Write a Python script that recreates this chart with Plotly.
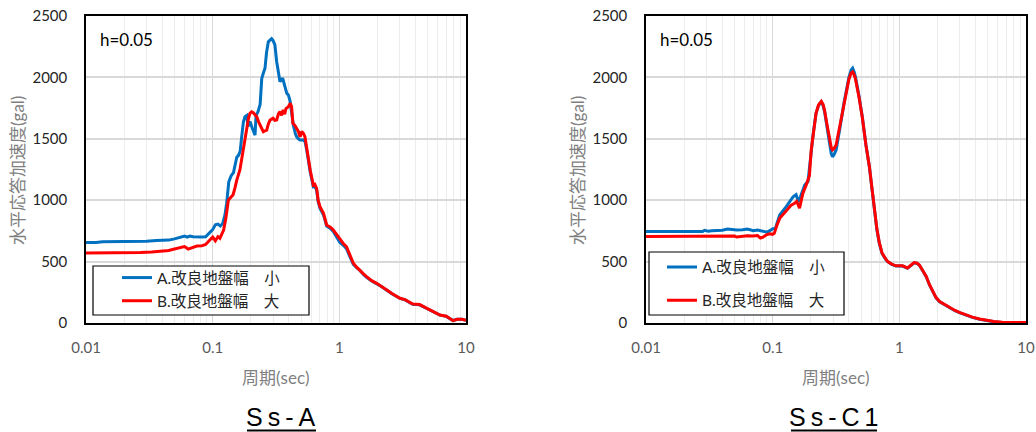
import plotly.graph_objects as go

# ---------------- data: Ss-A ----------------
sa_a_T = [0.01, 0.012, 0.0135, 0.02, 0.03, 0.036, 0.045, 0.05, 0.056, 0.06, 0.063, 0.066, 0.07, 0.075,
          0.082, 0.088, 0.094, 0.1, 0.105, 0.11, 0.115, 0.12, 0.125, 0.129, 0.134, 0.14, 0.146, 0.15,
          0.155, 0.16, 0.165, 0.17, 0.175, 0.18, 0.186, 0.19, 0.197, 0.205, 0.21, 0.216, 0.22, 0.228,
          0.237, 0.244, 0.252, 0.259, 0.266, 0.275, 0.285, 0.292, 0.3, 0.31, 0.32, 0.33, 0.34, 0.357,
          0.365, 0.373, 0.385, 0.396, 0.408, 0.42, 0.433, 0.45, 0.46, 0.475, 0.49, 0.52, 0.535, 0.55,
          0.565, 0.59, 0.623, 0.64, 0.662, 0.68, 0.703, 0.75, 0.794, 0.85, 0.896, 0.95, 1.01, 1.07,
          1.14, 1.2, 1.29, 1.37, 1.455, 1.55, 1.64, 1.8, 1.97, 2.15, 2.37, 2.6, 3.01, 3.3, 3.8, 4.3,
          4.9, 5.5, 6.23, 7.0, 7.9, 8.5, 9.3, 10.0]
sa_a_v = [655, 655, 662, 663, 665, 672, 675, 685, 700, 708, 700, 708, 702, 700,
          700, 702, 730, 760, 800, 805, 790, 810, 880, 975, 1150, 1200, 1225, 1280,
          1350, 1365, 1400, 1530, 1640, 1680, 1690, 1600, 1640, 1590, 1560, 1530, 1690, 1720,
          1780, 1990, 2040, 2075, 2200, 2290, 2305, 2315, 2300, 2264, 2130, 2050, 1965, 1993,
          1940, 1920, 1870, 1857, 1810, 1700, 1612, 1540, 1517, 1500, 1490, 1490, 1480, 1420,
          1340, 1225, 1110, 1115, 1080, 990, 935, 880, 790, 770, 745, 705, 655, 635,
          605, 550, 478, 450, 428, 396, 372, 342, 320, 298, 267, 238, 200, 188, 153, 148,
          118, 94, 64, 54, 20, 30, 30, 22]

sa_b_T = [0.01, 0.015, 0.02, 0.027, 0.033, 0.04, 0.045, 0.049, 0.055, 0.06, 0.064, 0.068, 0.075,
          0.082, 0.088, 0.095, 0.1, 0.105, 0.11, 0.114, 0.118, 0.122, 0.127, 0.129, 0.133, 0.137,
          0.145, 0.15, 0.155, 0.164, 0.174, 0.18, 0.186, 0.192, 0.197, 0.203, 0.209, 0.216, 0.223,
          0.23, 0.2365, 0.245, 0.251, 0.258, 0.267, 0.275, 0.284, 0.292, 0.3, 0.31, 0.32, 0.33,
          0.34, 0.35, 0.36, 0.37, 0.38, 0.395, 0.41, 0.42, 0.43, 0.445, 0.46, 0.475, 0.49, 0.505,
          0.52, 0.535, 0.55, 0.565, 0.59, 0.623, 0.64, 0.662, 0.68, 0.703, 0.75, 0.794, 0.85, 0.896,
          0.95, 1.01, 1.07, 1.14, 1.2, 1.29, 1.37, 1.455, 1.55, 1.64, 1.8, 1.97, 2.15, 2.37, 2.6,
          3.01, 3.3, 3.8, 4.3, 4.9, 5.5, 6.23, 7.0, 7.9, 8.5, 9.3, 10.0]
sa_b_v = [570, 570, 572, 575, 578, 583, 590, 600, 612, 622, 602, 610, 627,
          628, 640, 676, 700, 670, 703, 690, 720, 757, 850, 893, 1000, 1015,
          1045, 1100, 1164, 1246, 1409, 1500, 1598, 1670, 1707, 1720, 1713, 1700, 1680,
          1640, 1612, 1575, 1558, 1565, 1571, 1620, 1653, 1660, 1667, 1650, 1653, 1700,
          1721, 1690, 1735, 1700, 1748, 1760, 1790, 1760, 1626, 1610, 1585, 1560, 1517, 1560,
          1545, 1517, 1440, 1354, 1240, 1124, 1130, 1096, 1000, 947, 893, 798, 780, 757,
          720, 676, 650, 621, 560, 486, 455, 432, 400, 377, 345, 323, 300, 269, 240,
          201, 190, 155, 150, 120, 95, 65, 55, 19, 30, 30, 22]

# ---------------- data: Ss-C1 ----------------
sc_a_T = [0.01, 0.028, 0.029, 0.031, 0.033, 0.04, 0.044, 0.048, 0.052, 0.058, 0.063, 0.066, 0.07,
          0.076, 0.082, 0.09, 0.095, 0.1, 0.105, 0.11, 0.1136, 0.128, 0.138, 0.145, 0.153, 0.16,
          0.166, 0.173, 0.179, 0.19, 0.2015, 0.21, 0.22, 0.23, 0.242, 0.25, 0.257, 0.268, 0.28,
          0.29, 0.2967, 0.305, 0.317, 0.33, 0.348, 0.365, 0.38, 0.4, 0.416, 0.428, 0.44, 0.45,
          0.48, 0.51, 0.545, 0.58, 0.61, 0.64, 0.665, 0.695, 0.73, 0.785, 0.81, 0.87, 0.94, 1.06,
          1.16, 1.24, 1.31, 1.38, 1.44, 1.53, 1.63, 1.73, 1.83, 1.95, 2.08, 2.3, 2.5, 2.75, 2.98,
          3.4, 3.77, 4.3, 4.85, 5.6, 6.5, 8.0, 10.0]
sc_a_v = [745, 745, 755, 748, 752, 755, 765, 760, 758, 760, 765, 760, 752,
          758, 750, 740, 752, 767, 770, 840, 879, 947, 990, 1028, 1045, 988,
          1030, 1080, 1124, 1151, 1409, 1560, 1707, 1770, 1800, 1770, 1721, 1600, 1490,
          1380, 1354, 1370, 1409, 1530, 1653, 1790, 1897, 2000, 2060, 2075, 2045, 2006,
          1850, 1680, 1450, 1273, 1080, 893, 760, 649, 567, 515, 499, 478, 464, 464,
          445, 470, 490, 485, 470, 425, 377, 310, 255, 205, 173, 145, 120, 100, 84,
          62, 46, 30, 19, 10, 5, 3, 3]

sc_b_T = [0.01, 0.03, 0.032, 0.045, 0.05, 0.052, 0.056, 0.063, 0.07, 0.076, 0.08, 0.084, 0.09,
          0.095, 0.1, 0.103, 0.107, 0.1136, 0.128, 0.14, 0.149, 0.155, 0.163, 0.168, 0.173, 0.186,
          0.195, 0.2015, 0.21, 0.22, 0.23, 0.242, 0.25, 0.257, 0.268, 0.28, 0.29, 0.2967, 0.305,
          0.317, 0.33, 0.348, 0.365, 0.38, 0.4, 0.416, 0.428, 0.44, 0.45, 0.48, 0.51, 0.545, 0.58,
          0.61, 0.64, 0.665, 0.695, 0.73, 0.785, 0.81, 0.87, 0.94, 1.06, 1.16, 1.24, 1.31, 1.38,
          1.44, 1.53, 1.63, 1.73, 1.83, 1.95, 2.08, 2.3, 2.5, 2.75, 2.98, 3.4, 3.77, 4.3, 4.85, 5.6,
          6.5, 8.0, 10.0]
sc_b_v = [705, 705, 710, 710, 708, 700, 706, 710, 708, 712, 692, 700, 720,
          727, 722, 730, 784, 852, 913, 960, 975, 990, 934, 1000, 1056, 1137,
          1200, 1409, 1560, 1707, 1775, 1805, 1780, 1730, 1620, 1510, 1430, 1410, 1420,
          1450, 1540, 1653, 1780, 1880, 1985, 2035, 2045, 2020, 1990, 1840, 1675, 1450, 1275,
          1085, 900, 765, 655, 570, 518, 500, 480, 466, 466, 448, 472, 492, 487,
          472, 427, 379, 312, 257, 207, 175, 147, 122, 102, 86, 64, 48, 32, 21, 12,
          6, 4, 4]

x_tickvals = [0.01, 0.1, 1, 10]
x_ticktext = ["0.01", "0.1", "1", "10"]
y_tickvals = [0, 500, 1000, 1500, 2000, 2500]
legend_names = ["A.改良地盤幅\u3000小", "B.改良地盤幅\u3000大"]
titles = ["S\u2009s\u2009-\u2009A", "S\u2009s\u2009-\u2009C\u20091"]
y_title = "水平応答加速度(gal)"
x_title = "周期(sec)"
damping_label = "h=0.05"

BLUE = "#0070C0"
RED = "#FF0000"
FONT = "Lato, Noto Sans CJK JP, sans-serif"

W, H = 1036, 432
def px(x):
    return x / W
def py(y):
    return 1 - y / H

fig = go.Figure()

panels = [
    dict(xa="x", ya="y", left=86, right=466, leg="legend",
         A=(sa_a_T, sa_a_v), B=(sa_b_T, sa_b_v), title=titles[0],
         legbox=(93, 266, 309, 315), legx=117, legy=289.5, gap=0,
         ul=(247, 316), tcx=281, ytx=18),
    dict(xa="x2", ya="y2", left=646, right=1026, leg="legend2",
         A=(sc_a_T, sc_a_v), B=(sc_b_T, sc_b_v), title=titles[1],
         legbox=(649, 252, 844, 315), legx=662, legy=284, gap=10,
         ul=(791, 877), tcx=833, ytx=578),
]

minor_vals = [m * 10 ** e for e in (-2, -1, 0) for m in range(2, 10)]

for i, p in enumerate(panels):
    fig.add_trace(go.Scatter(x=p["A"][0], y=p["A"][1], mode="lines", name=legend_names[0],
                             line=dict(color=BLUE, width=3), xaxis=p["xa"], yaxis=p["ya"],
                             legend=p["leg"], legendgroup=f"a{i}"))
    fig.add_trace(go.Scatter(x=p["B"][0], y=p["B"][1], mode="lines", name=legend_names[1],
                             line=dict(color=RED, width=3), xaxis=p["xa"], yaxis=p["ya"],
                             legend=p["leg"], legendgroup=f"b{i}"))
    suffix = "" if i == 0 else "2"
    fig.layout["xaxis" + suffix] = dict(
        type="log", range=[-2, 1], domain=[px(p["left"]), px(p["right"])],
        anchor="y" + suffix, tickvals=x_tickvals, ticktext=x_ticktext,
        showgrid=True, gridcolor="#D9D9D9", gridwidth=1,
        minor=dict(tickvals=minor_vals, showgrid=True, gridcolor="#EDEDED", gridwidth=1, ticks=""),
        showline=True, linecolor="black", linewidth=1.5, mirror=True,
        ticks="", ticklabelstandoff=10, automargin=False,
        tickfont=dict(family=FONT, size=15, color="#595959"), zeroline=False,
    )
    fig.layout["yaxis" + suffix] = dict(
        range=[0, 2500], domain=[py(323), py(16)], anchor="x" + suffix,
        tickvals=y_tickvals, showgrid=True, gridcolor="#D9D9D9", gridwidth=1.5,
        showline=True, linecolor="black", linewidth=1.5, mirror=True,
        ticks="", ticklabelstandoff=14, automargin=False,
        tickfont=dict(family=FONT, size=15, color="#262626"), zeroline=False,
    )
    x0, y0, x1, y1 = p["legbox"]
    # legend frame (white box drawn over the traces)
    fig.add_shape(type="rect", xref="paper", yref="paper", layer="above",
                  x0=px(x0), x1=px(x1), y0=py(y1), y1=py(y0),
                  fillcolor="white", line=dict(color="black", width=1.2))
    fig.layout[p["leg"]] = dict(
        x=px(p["legx"]), y=py(p["legy"]), xanchor="left", yanchor="middle",
        bgcolor="rgba(0,0,0,0)", borderwidth=0,
        font=dict(family=FONT, size=15.5, color="#262626"),
        itemwidth=30, traceorder="grouped", tracegroupgap=p["gap"],
    )
    # annotations
    fig.add_annotation(x=px(p["left"] + 12), y=py(40), xref="paper", yref="paper",
                       text=damping_label, showarrow=False, xanchor="left", yanchor="middle",
                       font=dict(family=FONT, size=17, color="black"))
    fig.add_annotation(x=px((p["left"] + p["right"]) / 2), y=py(377), xref="paper", yref="paper",
                       text=x_title, showarrow=False, xanchor="center", yanchor="middle",
                       font=dict(family=FONT, size=17, color="#7F7F7F"))
    fig.add_annotation(x=px(p["ytx"]), y=py(171), xref="paper", yref="paper",
                       text=y_title, showarrow=False, textangle=-90, xanchor="center", yanchor="middle",
                       font=dict(family=FONT, size=17, color="#7F7F7F"))
    fig.add_annotation(x=px(p["tcx"]), y=py(417), xref="paper", yref="paper",
                       text=p["title"], showarrow=False, xanchor="center", yanchor="middle",
                       font=dict(family="Liberation Sans, Arial, sans-serif", size=25, color="black"))
    fig.add_shape(type="line", xref="paper", yref="paper",
                  x0=px(p["ul"][0]), x1=px(p["ul"][1]), y0=py(430.5), y1=py(430.5),
                  line=dict(color="black", width=2))

fig.update_layout(
    width=W, height=H, margin=dict(l=0, r=0, t=0, b=0),
    paper_bgcolor="white", plot_bgcolor="white",
    showlegend=True,
    font=dict(family=FONT),
)

fig.write_html("out.html", config={"displayModeBar": False},
               post_script="document.body.style.margin='0px';document.body.style.padding='0px';document.body.style.overflow='hidden';")
